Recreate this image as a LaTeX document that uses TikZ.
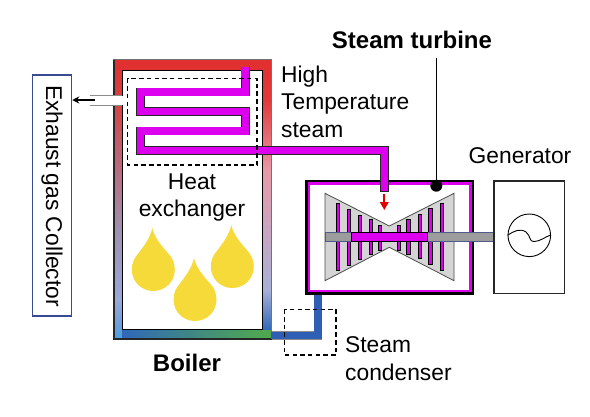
\documentclass[tikz,border=0pt]{standalone}
\usepackage{fontspec}
\usetikzlibrary{arrows.meta}
\setmainfont{Liberation Sans}
\definecolor{mag}{HTML}{DD00EE}
\definecolor{dropc}{HTML}{F6DA3A}
\definecolor{pipeblue}{HTML}{2F5FB5}
\definecolor{shaftc}{HTML}{9C9C9C}
\definecolor{conec}{HTML}{D4D4D4}
\definecolor{collb}{HTML}{3A4A90}
\definecolor{fr1}{HTML}{E03030}
\definecolor{frp}{HTML}{E89AA8}
\definecolor{frl}{HTML}{A8B0D8}
\definecolor{fr4}{HTML}{3068B8}
\definecolor{fr5}{HTML}{4FA850}
\definecolor{fr6}{HTML}{4FA0E0}
\definecolor{l2}{HTML}{70A0D8}
\definecolor{l3}{HTML}{98A8D8}
\definecolor{l4}{HTML}{A090B0}
\definecolor{l5}{HTML}{C06070}
\definecolor{l6}{HTML}{D84040}
\pgfdeclareverticalshading{frameR}{100bp}{
 color(0bp)=(fr4); color(26.6bp)=(fr4); color(33.8bp)=(frl); color(55bp)=(frp); color(67.7bp)=(fr1!90!frp); color(75bp)=(fr1); color(100bp)=(fr1)}
\pgfdeclareverticalshading{frameL}{100bp}{
 color(0bp)=(fr6); color(25.7bp)=(fr6); color(28bp)=(l2); color(32bp)=(l3); color(44.5bp)=(l4); color(58.7bp)=(l5); color(67.7bp)=(l6); color(75bp)=(fr1); color(100bp)=(fr1)}
\tikzset{
  x=1pt,y=-1pt,
  lbl/.style={font=\fontsize{22.8}{27.5}\selectfont,inner sep=0pt,align=center},
  lblb/.style={font=\bfseries\fontsize{24}{27.5}\selectfont,inner sep=0pt,align=center},
  dashbox/.style={draw=black,line width=1.1pt,dash pattern=on 4.5pt off 3.2pt},
  blade/.style={draw=black,line width=.6pt,fill=mag},
  drop/.style={fill=dropc,draw=none},
}
\newcommand{\mydrop}[2]{%
  \fill[drop] (#1-1,#2-41.5) .. controls (#1+1,#2-32) and (#1+8,#2-24) .. (#1+15,#2-16)
   .. controls (#1+19,#2-12) and (#1+21.5,#2-6) .. (#1+21.5,#2)
   .. controls (#1+21.5,#2+12) and (#1+12,#2+21.5) .. (#1,#2+21.5)
   .. controls (#1-12,#2+21.5) and (#1-21.5,#2+12) .. (#1-21.5,#2)
   .. controls (#1-21.5,#2-6) and (#1-19,#2-12) .. (#1-15,#2-16)
   .. controls (#1-9,#2-24) and (#1-3,#2-32) .. (#1-1,#2-41.5) -- cycle;}
\begin{document}
\begin{tikzpicture}
\useasboundingbox (0,0) rectangle (590,416);
\fill[white] (0,0) rectangle (590,416);
% boiler frame
\shade[shading=frameL] (114,59.5) rectangle (122.5,339);
\shade[shading=frameR] (262.5,59.5) rectangle (271.5,339);
\fill[fr1] (114,59.5) rectangle (271.5,70.5);
\shade[left color=fr4,right color=fr5] (122.5,329.5) rectangle (262.5,339);
\fill[fr5] (262.5,329.5) rectangle (271.5,339);
\draw[line width=1.3pt,black!55] (114,59.5) rectangle (271.5,339);
\draw[line width=1.2pt,black!85] (114,59.5) -- (114,339) -- (271.5,339);
\draw[line width=1.1pt,black] (122.5,70.7) rectangle (262.5,329.3);
% exhaust duct
\fill[white] (113,95.5) rectangle (128,104.5);
\draw[line width=1pt,black!45] (90,95.5) -- (122,95.5) (90,105) -- (122,105);
% collector
\node[draw=collb,line width=1.1pt,fill=white,minimum width=39pt,minimum height=241pt,inner sep=0pt] (coll) at (52.2,195.5) {};
\node[lbl,rotate=-90] (colltxt) at (52,196) {Exhaust gas Collector};
\coordinate (ductend) at (95,100);
\draw[-{Stealth[length=7pt,width=7pt]},line width=1.4pt] (ductend) -- (coll.east |- ductend);
% turbine box
\draw[draw=black,line width=2.6pt] (306.5,181) rectangle (473,293.5);
\draw[draw=mag,line width=2.2pt] (309,183.4) rectangle (470.5,291);
% serpentine
\draw[line width=8.8pt,black!85,miter limit=10] (245.2,67) -- (245.2,92) -- (140.7,92) -- (140.7,111.7) -- (245.2,111.7) -- (245.2,131) -- (140.7,131) -- (140.7,150.3) -- (384.5,150.3) -- (384.5,191.5);
\draw[line width=7.4pt,mag,miter limit=10] (245.2,67) -- (245.2,92) -- (140.7,92) -- (140.7,111.7) -- (245.2,111.7) -- (245.2,131) -- (140.7,131) -- (140.7,150.3) -- (384.5,150.3) -- (384.5,190.8);
\fill[mag] (241.2,67) rectangle (249.2,77);
% dashed box
\draw[dashbox] (127.8,78.4) rectangle (257,165);
% drops
\mydrop{153.3}{269.5}
\mydrop{232.3}{266.5}
\mydrop{195}{299.5}
% condenser pipe
\draw[line width=8.6pt,black!45] (271.5,335.5) -- (318,335.5) -- (318,294.5);
\draw[line width=7.4pt,pipeblue] (271,335.5) -- (318,335.5) -- (318,294.5);
\draw[dashbox] (284.3,309.3) rectangle (336,355);
% cones
\draw[fill=conec,draw=black!70,line width=.8pt] (325,193.3) -- (389.3,226) -- (454,193.3) -- (454,280.7) -- (389.3,247.3) -- (325,280.7) -- cycle;
% blades
\foreach \xc/\yt/\yb in {337.7/203.3/270.7,349/209.3/265,360/215.3/259.3,370.7/219.3/254.7,380/225.3/250.3,398.7/225.3/250.3,408.3/219.3/254.7,419.7/214.3/258.7,430.3/208.7/264.7,441.7/203.3/270.7}
  \draw[blade] (\xc-1.6,\yt) rectangle (\xc+1.6,\yb);
% shaft
\draw[fill=shaftc,draw=collb!70!gray,line width=.8pt] (325.5,232.8) rectangle (494,241);
\draw[fill=mag,draw=black,line width=.8pt] (351,232.8) rectangle (427.7,241);
% red arrow
\coordinate (ra) at (384.3,194);
\coordinate (rb) at (384.3,210);
\draw[-{Triangle[length=8pt,width=8.5pt]},red!90!black,line width=2.2pt] (ra) -- (rb);
% dot and leader
\node[circle,fill=black,minimum size=12pt,inner sep=0pt] (dot) at (436.3,185.7) {};
\coordinate (leadtop) at (436.3,58);
\draw[line width=1.1pt] (leadtop) -- (dot);
% generator
\draw[line width=1.4pt,black!85] (494,181) rectangle (564.3,293.3);
\node[circle,draw=black,line width=.9pt,minimum size=42.6pt,inner sep=0pt] (gen) at (529.3,235.3) {};
\draw[line width=.9pt] (gen.west) .. controls (514,231) and (520,228) .. (526,232) .. controls (531,236) and (529,242) .. (534,241.5) .. controls (540,241.5) and (545,237) .. (550.5,235);
% labels
\node[lblb] (st) at (412,40) {Steam turbine};
\node[lbl] (gt) at (520,156) {Generator};
\node[lbl,align=left,anchor=north west] (ht) at (281,65.5) {High\\Temperature\\steam};
\node[lbl] (he) at (192,197.5) {Heat\\exchanger};
\node[lblb] (bo) at (187,363) {Boiler};
\node[lbl,align=left,anchor=north west] (sc) at (345,336.5) {Steam\\condenser};
\end{tikzpicture}
\end{document}
